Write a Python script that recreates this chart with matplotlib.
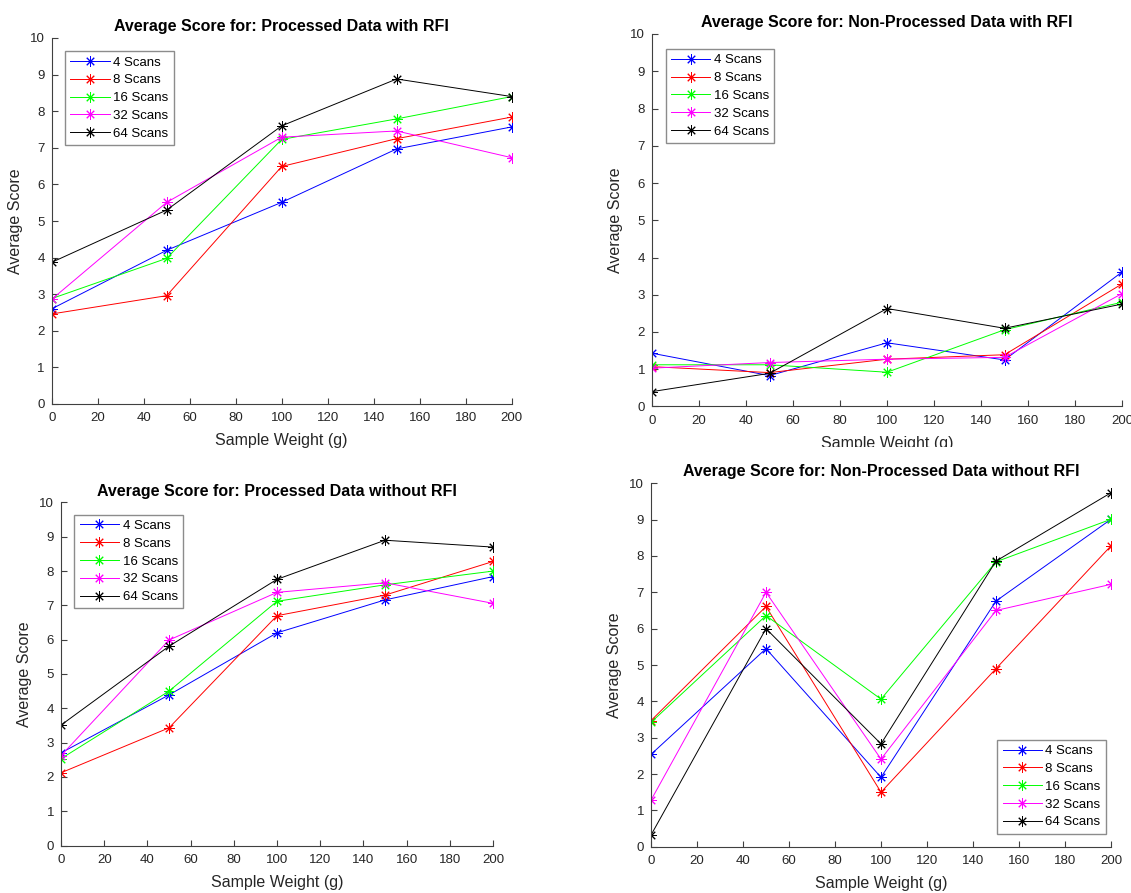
import matplotlib
matplotlib.use("Agg")
import matplotlib.pyplot as plt
from matplotlib.transforms import Bbox, TransformedBbox

plt.rcParams['font.family'] = ['Liberation Sans', 'DejaVu Sans']

# sample weight (g)
weights = [0, 50, 100, 150, 200]
scan_labels = ['4 Scans', '8 Scans', '16 Scans', '32 Scans', '64 Scans']
line_colors = ['#0000ff', '#ff0000', '#00ff00', '#ff00ff', '#000000']

# Processed data with RFI
proc_rfi_4 = [2.60, 4.20, 5.51, 6.97, 7.57]
proc_rfi_8 = [2.46, 2.96, 6.49, 7.25, 7.84]
proc_rfi_16 = [2.88, 3.98, 7.23, 7.79, 8.40]
proc_rfi_32 = [2.86, 5.51, 7.29, 7.46, 6.73]
proc_rfi_64 = [3.87, 5.30, 7.60, 8.88, 8.40]

# Non-processed data with RFI
raw_rfi_4 = [1.43, 0.83, 1.71, 1.25, 3.61]
raw_rfi_8 = [1.07, 0.91, 1.27, 1.39, 3.29]
raw_rfi_16 = [1.12, 1.12, 0.92, 2.06, 2.80]
raw_rfi_32 = [1.03, 1.18, 1.27, 1.32, 3.03]
raw_rfi_64 = [0.40, 0.89, 2.63, 2.10, 2.75]

# Processed data without RFI
proc_clean_4 = [2.70, 4.39, 6.20, 7.16, 7.84]
proc_clean_8 = [2.12, 3.43, 6.70, 7.30, 8.28]
proc_clean_16 = [2.53, 4.50, 7.12, 7.60, 8.00]
proc_clean_32 = [2.62, 5.99, 7.38, 7.66, 7.06]
proc_clean_64 = [3.51, 5.81, 7.76, 8.90, 8.70]

# Non-processed data without RFI
raw_clean_4 = [2.54, 5.45, 1.91, 6.76, 9.01]
raw_clean_8 = [3.47, 6.61, 1.50, 4.90, 8.28]
raw_clean_16 = [3.42, 6.36, 4.06, 7.84, 9.01]
raw_clean_32 = [1.28, 7.00, 2.41, 6.50, 7.22]
raw_clean_64 = [0.32, 6.00, 2.83, 7.86, 9.74]

W, H = 1131, 893
fig = plt.figure(figsize=(W / 100, H / 100), dpi=100)

# matlab-like '*' marker: eight thin spokes
asterisk = (8, 2, 0)


def panel(rect, title, series, leg_loc, leg_anchor):
    ax = fig.add_axes(rect)
    for vals, lab, col in zip(series, scan_labels, line_colors):
        ax.plot(weights, vals, color=col, lw=0.7, marker=asterisk,
                markersize=7.5, markeredgewidth=0.7, label=lab)
    ax.set_xlim(0, 200)
    ax.set_ylim(0, 10)
    ax.set_xticks(range(0, 201, 20))
    ax.set_yticks(range(0, 11))
    for s in ['top', 'right']:
        ax.spines[s].set_visible(False)
    for s in ['left', 'bottom']:
        ax.spines[s].set_color('#404040')
        ax.spines[s].set_linewidth(0.8)
    ax.tick_params(direction='in', length=4, width=0.8, color='#404040',
                   labelcolor='#262626', labelsize=9.5)
    ax.tick_params(axis='x', pad=6)
    ax.tick_params(axis='y', pad=5)
    ax.set_title(title, fontsize=11.5, fontweight='bold', pad=5)
    ax.set_xlabel('Sample Weight (g)', fontsize=11.5, color='#262626', labelpad=6.5)
    ax.set_ylabel('Average Score', fontsize=11.5, color='#262626', labelpad=5)
    leg = ax.legend(loc=leg_loc, bbox_to_anchor=leg_anchor, borderaxespad=0,
                    fontsize=9.5, handlelength=3.0, handletextpad=0.25,
                    labelspacing=0.42, borderpad=0.4, fancybox=False,
                    framealpha=1, edgecolor='#8c8c8c')
    leg.get_frame().set_linewidth(1.0)
    return ax


panel([51.7 / W, (H - 404) / H, 460 / W, 366 / H],
      'Average Score for: Processed Data with RFI',
      [proc_rfi_4, proc_rfi_8, proc_rfi_16, proc_rfi_32, proc_rfi_64],
      'upper left', (0.029, 0.964))

ax_tr = panel([652 / W, (H - 406.5) / H, 470 / W, 372.5 / H],
              'Average Score for: Non-Processed Data with RFI',
              [raw_rfi_4, raw_rfi_8, raw_rfi_16, raw_rfi_32, raw_rfi_64],
              'upper left', (0.029, 0.96))
# the screenshot of this panel is cut off through its x label
clip = TransformedBbox(Bbox([[0, (H - 447) / H], [1, 1]]), fig.transFigure)
ax_tr.xaxis.label.set_clip_box(clip)
ax_tr.xaxis.label.set_clip_on(True)

panel([61 / W, (H - 845.5) / H, 432 / W, 343 / H],
      'Average Score for: Processed Data without RFI',
      [proc_clean_4, proc_clean_8, proc_clean_16, proc_clean_32, proc_clean_64],
      'upper left', (0.031, 0.965))

panel([651 / W, (H - 846.7) / H, 460 / W, 363.4 / H],
      'Average Score for: Non-Processed Data without RFI',
      [raw_clean_4, raw_clean_8, raw_clean_16, raw_clean_32, raw_clean_64],
      'lower right', (0.989, 0.036))

fig.savefig('out.png', dpi=100, facecolor='white')
